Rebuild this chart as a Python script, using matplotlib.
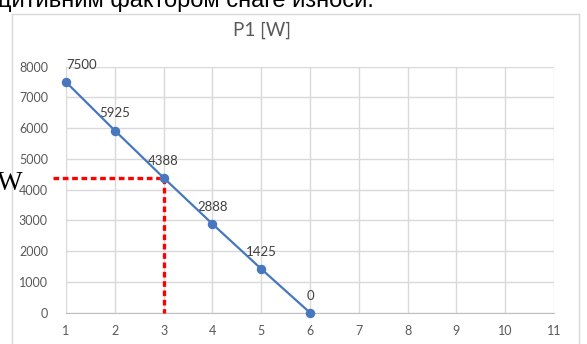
import matplotlib.pyplot as plt
from matplotlib.lines import Line2D

# P1 power vs step
x = [1, 2, 3, 4, 5, 6]
p1 = [7500, 5925, 4388, 2888, 1425, 0]
xticks = list(range(1, 12))
yticks = list(range(0, 8001, 1000))
# reading point marked with the red guide
x_read = 3
p_read = 4388

# label offsets in points (first one pushed right to stay inside)
lab_dx = [11, 0, 0, 0, 0, 0]
lab_dy = [8, 8, 8, 8, 8, 8]

blue = '#4677BF'
grey_txt = '#595959'
grid_c = '#D9D9D9'

fig = plt.figure(figsize=(5.87, 3.44), dpi=100)
W, H = 587, 344
ax = fig.add_axes([66 / W, 1 - 312.7 / H, (554 - 66) / W, (312.7 - 66.7) / H])

ax.plot(x, p1, color=blue, lw=1.6, marker='o', ms=5.8, zorder=4, clip_on=False)
for xi, yi, dx, dy in zip(x, p1, lab_dx, lab_dy):
    ax.annotate(str(yi), (xi, yi), xytext=(dx, dy), textcoords='offset points',
                ha='center', va='bottom', fontsize=9.5, color='#404040', family='Lato')

# red dashed guide lines
dash = (0, (1.7, 1.1))
ax.plot([0.73, x_read], [p_read, p_read], color='#FF0000', lw=2.4, ls=dash,
        clip_on=False, zorder=3)
ax.plot([x_read, x_read], [p_read, 0], color='#FF0000', lw=2.4, ls=dash,
        clip_on=False, zorder=3)

ax.set_xlim(1, 11)
ax.set_ylim(0, 8000)
ax.set_xticks(xticks)
ax.set_yticks(yticks)
ax.grid(True, color=grid_c, lw=1)
ax.set_axisbelow(True)
for s in ['top', 'right', 'left']:
    ax.spines[s].set_visible(False)
ax.spines['bottom'].set_color('#BFBFBF')
ax.tick_params(length=0, labelsize=9, colors=grey_txt, pad=9)
ax.tick_params(axis='y', pad=13)
for lab in ax.get_xticklabels() + ax.get_yticklabels():
    lab.set_family('Lato')

fig.text(262 / W, 1 - 30 / H, 'P1 [W]', ha='center', va='center', fontsize=13.5,
         color=grey_txt, family='Lato')

# chart frame
frame_c = '#D9D9D9'
fig.add_artist(Line2D([12 / W, 12 / W], [0, 1 - 14 / H], color=frame_c, lw=1))
fig.add_artist(Line2D([12 / W, 579 / W], [1 - 14 / H, 1 - 14 / H], color=frame_c, lw=1))
fig.add_artist(Line2D([579 / W, 579 / W], [0, 1 - 14 / H], color=frame_c, lw=1))

# surrounding document text
fig.text(-2 / W, 1 - 7 / H, 'цитивним фактором снаге износи.', ha='left', va='baseline',
         fontsize=17, color='black', family='Liberation Sans')
fig.text(-3 / W, 1 - 190 / H, 'W', ha='left', va='baseline', fontsize=19.5,
         color='black', family='Liberation Serif')

fig.savefig('out.png', dpi=100)
